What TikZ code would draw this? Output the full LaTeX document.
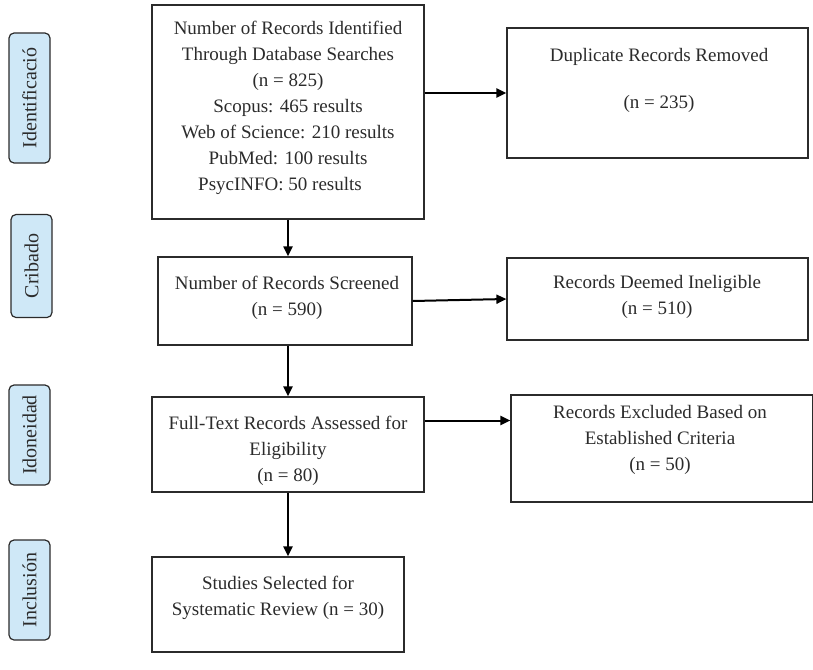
\documentclass[tikz,border=0pt]{standalone}
\usepackage{fontspec}
\setmainfont{Liberation Serif}
\newfontfamily\diagserif{Liberation Serif}
\usetikzlibrary{arrows.meta}
\definecolor{sidefill}{HTML}{CFE8F7}
\definecolor{ink}{HTML}{2B2B2B}
\begin{document}
\begin{tikzpicture}[x=1pt,y=-1pt,
  box/.style={draw=ink, line width=1.2pt, rectangle, inner sep=0pt},
  txt/.style={anchor=north, align=center, inner sep=0pt, font=\diagserif\fontsize{19}{26}\selectfont, text=ink},
  side/.style={draw=ink, line width=1.2pt, fill=sidefill, rounded corners=5pt, rotate=90, inner sep=0pt, minimum height=41pt, font=\diagserif\fontsize{20}{22}\selectfont, text=ink},
  arr/.style={line width=2pt, draw=black, -{Triangle[length=10pt,width=9pt]}}]
\useasboundingbox (0,0) rectangle (813,669);

% side labels
\node[side, minimum width=130pt] (s1) at (29.5,98) {Identificació};
\node[side, minimum width=103pt] (s2) at (31.5,266) {Cribado};
\node[side, minimum width=100pt] (s3) at (29.5,435) {Idoneidad};
\node[side, minimum width=100pt] (s4) at (29.5,590) {Inclusión};

% boxes
\node[box, minimum width=272pt, minimum height=214pt] (id) at (288,112) {};
\node[box, minimum width=301pt, minimum height=130pt] (dup) at (657.5,93) {};
\node[box, minimum width=254pt, minimum height=88pt] (scr) at (285,301) {};
\node[box, minimum width=301pt, minimum height=82pt] (inel) at (657.5,299) {};
\node[box, minimum width=272pt, minimum height=95pt] (ft) at (288,444.5) {};
\node[box, minimum width=302pt, minimum height=107pt] (ex) at (662,448.5) {};
\node[box, minimum width=252pt, minimum height=95pt] (st) at (278,604.5) {};

% texts
\node[txt] (idt) at (288,21) {Number of Records Identified\\
Through Database Searches\\
(n = 825)\\
Scopus: 465 results\hspace*{50pt}\\
Web of Science: 210 results\hspace*{40pt}\\
PubMed: 100 results\hspace*{56pt}\\
PsycINFO: 50 results\hspace*{16pt}};
\node[txt] (dupt) at (659,48) {Duplicate Records Removed\\[21pt] (n = 235)};
\node[txt] (scrt) at (287,276) {Number of Records Screened\\ (n = 590)};
\node[txt] (inelt) at (657,275) {Records Deemed Ineligible\\ (n = 510)};
\node[txt] (ftt) at (288,416) {Full-Text Records Assessed for\\ Eligibility\\ (n = 80)};
\node[txt] (ext) at (660,405) {Records Excluded Based on\\ Established Criteria\\ (n = 50)};
\node[txt] (stt) at (278,576) {Studies Selected for\\ Systematic Review (n = 30)};

% arrows
\draw[arr] (id.east |- dup.west) -- (dup.west);
\draw[arr] (id.south) -- (id.south |- scr.north);
\draw[arr] (scr.east) -- (inel.west);
\draw[arr] (id.south |- scr.south) -- (id.south |- ft.north);
\draw[arr] ([yshift=24pt]ft.east) -- ([yshift=24pt]ft.east -| ex.west);
\draw[arr] (ft.south) -- (ft.south |- st.north);
\end{tikzpicture}
\end{document}
